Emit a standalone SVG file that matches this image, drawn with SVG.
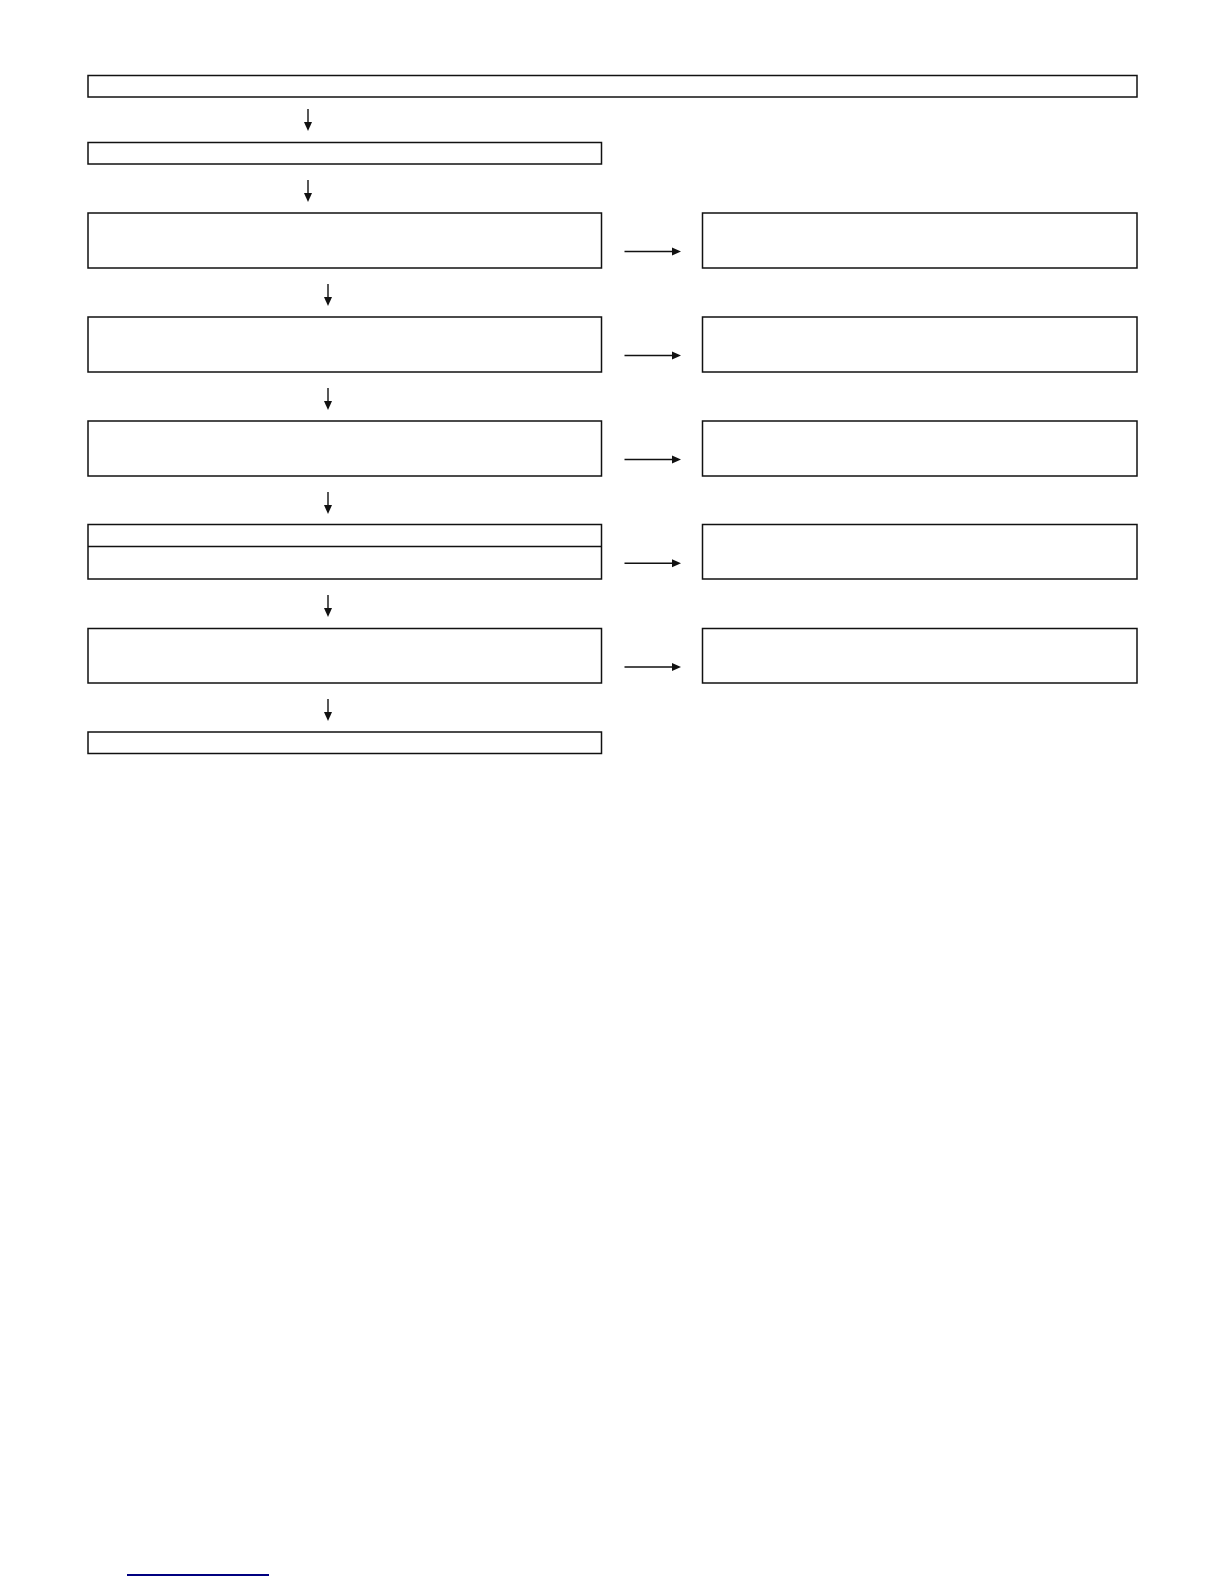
<svg xmlns="http://www.w3.org/2000/svg" width="1224" height="1584" viewBox="0 0 1224 1584">
<style>
.box{fill:#fff;stroke:#111;stroke-width:1.5}
.ln{stroke:#111;stroke-width:1.4;fill:none}
.ah{fill:#111}
</style>
<rect x="0" y="0" width="1224" height="1584" fill="#fff"/>
<g id="nodes">
<g id="n1"><rect class="box" x="88" y="75.5" width="1049" height="21.5"/></g>
<g id="n2"><rect class="box" x="88" y="142.5" width="513.5" height="21.5"/></g>
<g id="n3"><rect class="box" x="88" y="213" width="513.5" height="55"/></g>
<g id="n4"><rect class="box" x="88" y="317" width="513.5" height="55"/></g>
<g id="n5"><rect class="box" x="88" y="421" width="513.5" height="55"/></g>
<g id="n6"><rect class="box" x="88" y="524.5" width="513.5" height="54.5"/><line class="ln" x1="88" y1="546.5" x2="601.5" y2="546.5"/></g>
<g id="n7"><rect class="box" x="88" y="628.5" width="513.5" height="54.5"/></g>
<g id="n8"><rect class="box" x="88" y="732" width="513.5" height="21.5"/></g>
<g id="r3"><rect class="box" x="702.5" y="213" width="434.5" height="55"/></g>
<g id="r4"><rect class="box" x="702.5" y="317" width="434.5" height="55"/></g>
<g id="r5"><rect class="box" x="702.5" y="421" width="434.5" height="55"/></g>
<g id="r6"><rect class="box" x="702.5" y="524.5" width="434.5" height="54.5"/></g>
<g id="r7"><rect class="box" x="702.5" y="628.5" width="434.5" height="54.5"/></g>
</g>
<g id="connectors">
<line class="ln" x1="308" y1="109" x2="308" y2="123"/><polygon class="ah" points="304,122 312,122 308,131"/>
<line class="ln" x1="308" y1="180" x2="308" y2="194"/><polygon class="ah" points="304,193 312,193 308,202"/>
<line class="ln" x1="328" y1="284" x2="328" y2="298"/><polygon class="ah" points="324,297 332,297 328,306"/>
<line class="ln" x1="328" y1="388" x2="328" y2="402"/><polygon class="ah" points="324,401 332,401 328,410"/>
<line class="ln" x1="328" y1="492" x2="328" y2="506"/><polygon class="ah" points="324,505 332,505 328,514"/>
<line class="ln" x1="328" y1="595" x2="328" y2="609"/><polygon class="ah" points="324,608 332,608 328,617"/>
<line class="ln" x1="328" y1="699" x2="328" y2="713"/><polygon class="ah" points="324,712 332,712 328,721"/>
<line class="ln" x1="624.5" y1="251.5" x2="673" y2="251.5"/><polygon class="ah" points="672,247.5 672,255.5 681,251.5"/>
<line class="ln" x1="624.5" y1="355.5" x2="673" y2="355.5"/><polygon class="ah" points="672,351.5 672,359.5 681,355.5"/>
<line class="ln" x1="624.5" y1="459.5" x2="673" y2="459.5"/><polygon class="ah" points="672,455.5 672,463.5 681,459.5"/>
<line class="ln" x1="624.5" y1="563.3" x2="673" y2="563.3"/><polygon class="ah" points="672,559.3 672,567.3 681,563.3"/>
<line class="ln" x1="624.5" y1="667" x2="673" y2="667"/><polygon class="ah" points="672,663 672,671 681,667"/>
</g>
<line x1="127" y1="1575" x2="269" y2="1575" stroke="#000080" stroke-width="1.8"/>
</svg>
